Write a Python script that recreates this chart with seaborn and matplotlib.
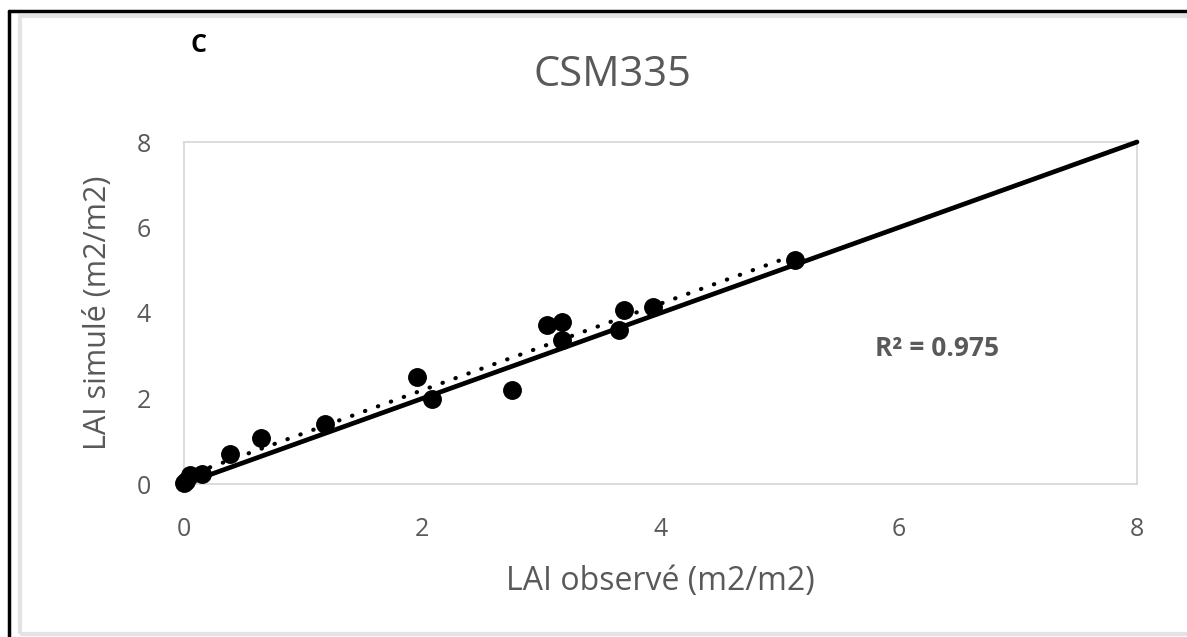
import matplotlib
matplotlib.use("Agg")
import matplotlib.pyplot as plt
import seaborn as sns
import numpy as np
import pandas as pd
from matplotlib.patches import Rectangle
from matplotlib.lines import Line2D

# Data
lai_observe = [0.00, 0.02, 0.05, 0.15, 0.39, 0.65, 1.18, 1.96, 2.08, 2.75,
               3.05, 3.17, 3.17, 3.65, 3.69, 3.94, 5.13]
lai_simule = [0.02, 0.07, 0.20, 0.23, 0.70, 1.07, 1.40, 2.51, 1.98, 2.20,
              3.71, 3.80, 3.36, 3.61, 4.08, 4.15, 5.24]
one_to_one = [0, 8]
ticks = [0, 2, 4, 6, 8]
title = "CSM335"
panel = "C"
r2_text = "R² = 0.975"
xlabel = "LAI observé (m2/m2)"
ylabel = "LAI simulé (m2/m2)"

df = pd.DataFrame({"obs": lai_observe, "sim": lai_simule})

sns.set_theme(style="white")
plt.rcParams["font.family"] = ["Open Sans", "DejaVu Sans"]

gray = "#595959"
fig = plt.figure(figsize=(11.87, 6.37), dpi=100)
ax = fig.add_axes([184 / 1187, 1 - 484 / 637, (1137 - 184) / 1187, (484 - 142) / 637])

# frames around the figure
fig.patches.append(Rectangle((20 / 1187, 3 / 637), 1.2, 1 - 19 / 637, transform=fig.transFigure,
                             fill=False, edgecolor="#e3e3e3", lw=3, zorder=0))
fig.add_artist(Line2D([9 / 1187, 9 / 1187], [0, 1 - 11 / 637], transform=fig.transFigure,
                      color="black", lw=2.5))
fig.add_artist(Line2D([9 / 1187, 1], [1 - 11 / 637, 1 - 11 / 637], transform=fig.transFigure,
                      color="black", lw=2.5))

# 1:1 line
ax.plot(one_to_one, one_to_one, color="black", lw=3.4, solid_capstyle="round", zorder=3,
        clip_on=False)

# trend line (linear regression, dotted)
sns.regplot(data=df, x="obs", y="sim", ax=ax, scatter=False, ci=None, truncate=True,
            line_kws={"color": "black", "lw": 3, "ls": (0, (0.1, 3.2)),
                      "dash_capstyle": "round", "zorder": 4})

# observations
sns.scatterplot(data=df, x="obs", y="sim", ax=ax, color="black", s=185,
                edgecolor="black", linewidth=0, zorder=5, clip_on=False)

ax.set_xlim(0, 8)
ax.set_ylim(0, 8)
ax.set_xticks(ticks)
ax.set_yticks(ticks)
ax.tick_params(axis="both", labelsize=18, colors=gray, length=0)
ax.tick_params(axis="x", pad=24)
ax.tick_params(axis="y", pad=24)
for sp in ax.spines.values():
    sp.set_color("#d9d9d9")
    sp.set_linewidth(1.3)
ax.set_xlabel(xlabel, fontsize=23, color=gray, labelpad=16)
ax.set_ylabel(ylabel, fontsize=22, color=gray, labelpad=17)

fig.text(612 / 1187, 1 - 75 / 637, title, fontsize=30, color=gray, ha="center", va="center")
fig.text(198 / 1187, 1 - 45 / 637, panel, fontsize=18, color="black", fontweight="bold",
         ha="center", va="center")
ax.text(0.725, 0.395, r2_text, transform=ax.transAxes, fontsize=19, color=gray,
        fontweight="bold", ha="left", va="center")

fig.savefig("out.png", dpi=100, facecolor="white")
